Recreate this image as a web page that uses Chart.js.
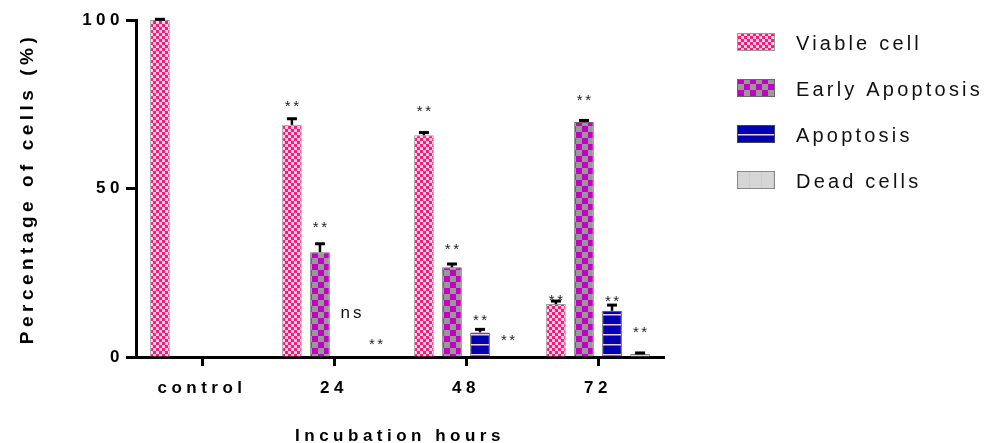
<!DOCTYPE html>
<html>
<head>
<meta charset="utf-8">
<script src="https://cdn.jsdelivr.net/npm/chart.js@4.4.1/dist/chart.umd.min.js"></script>
<style>
  html, body { margin: 0; padding: 0; background: #fff; }
  canvas { display: block; }
</style>
</head>
<body>
<canvas id="cellChart" width="1000" height="443"></canvas>
<script>
// Valores (porcentaje de celulas)
const categories = ['control', '24', '48', '72'];
const seriesNames = ['Viable cell', 'Early Apoptosis', 'Apoptosis', 'Dead cells'];

const viable = [100, 68.9, 65.8, 15.7];
const early = [0, 31.1, 26.6, 69.7];
const apoptosis = [0, 0, 7.3, 13.7];
const dead = [0, 0, 0, 0.9];

// barras de error (solo hacia arriba)
const viableErr = [0.2, 1.8, 0.8, 0.9];
const earlyErr = [0, 2.5, 1.0, 0.5];
const apoptosisErr = [0, 0, 0.9, 1.7];
const deadErr = [0, 0, 0, 0.3];

// marcas de significancia y nivel (%) donde aparecen
const viableSig = ['', '**', '**', '**'];
const earlySig = ['', '**', '**', '**'];
const apoptosisSig = ['', 'ns', '**', '**'];
const deadSig = ['', '**', '**', '**'];
const viableSigAt = [0, 75.4, 73.7, 17.8];
const earlySigAt = [0, 39.5, 32.9, 77.0];
const apoptosisSigAt = [0, 12.8, 11.9, 17.5];
const deadSigAt = [0, 4.7, 5.9, 8.3];

const yTicks = [0, 50, 100];

const FONT = '"Liberation Sans", Arial, Helvetica, sans-serif';

const canvas = document.getElementById('cellChart');
const ctx = canvas.getContext('2d');

function makePattern(w, h, paint) {
  const c = document.createElement('canvas');
  c.width = w;
  c.height = h;
  paint(c.getContext('2d'), w, h);
  return ctx.createPattern(c, 'repeat');
}

const viableFill = makePattern(6, 6, (g) => {
  g.fillStyle = '#ffd2e3';
  g.fillRect(0, 0, 6, 6);
  g.fillStyle = '#ff1877';
  g.fillRect(0, 0, 3, 3);
  g.fillRect(3, 3, 3, 3);
});
const earlyFill = makePattern(12, 12, (g) => {
  g.fillStyle = '#999999';
  g.fillRect(0, 0, 12, 12);
  g.fillStyle = '#c300c3';
  g.fillRect(0, 0, 6, 6);
  g.fillRect(6, 6, 6, 6);
});
const apoptosisFill = makePattern(10, 10, (g) => {
  g.fillStyle = '#0000b0';
  g.fillRect(0, 0, 10, 10);
  g.fillStyle = '#f3c6e6';
  g.fillRect(0, 4, 10, 1.5);
});
const deadFill = makePattern(12, 10, (g) => {
  g.fillStyle = '#d5d5d5';
  g.fillRect(0, 0, 12, 10);
  g.fillStyle = '#f2b9c6';
  g.fillRect(5, 0, 1, 10);
});

const errors = [viableErr, earlyErr, apoptosisErr, deadErr];
const sigs = [viableSig, earlySig, apoptosisSig, deadSig];
const sigLevels = [viableSigAt, earlySigAt, apoptosisSigAt, deadSigAt];

// espaciado de letras para los textos de los ejes
const letterSpacingPlugin = {
  id: 'letterSpacing',
  beforeLayout(chart) { chart.ctx.letterSpacing = '4.5px'; },
  beforeDraw(chart) { chart.ctx.letterSpacing = '4.5px'; }
};

// barras de error
const errorBarPlugin = {
  id: 'errorBars',
  afterDatasetsDraw(chart) {
    const c = chart.ctx;
    const y = chart.scales.y;
    c.save();
    c.strokeStyle = '#000';
    c.fillStyle = '#000';
    chart.data.datasets.forEach((ds, i) => {
      const meta = chart.getDatasetMeta(i);
      meta.data.forEach((bar, j) => {
        const err = errors[i][j];
        if (!err) return;
        const top = y.getPixelForValue(ds.data[j] + err);
        c.lineWidth = 2.5;
        c.beginPath();
        c.moveTo(bar.x, bar.y);
        c.lineTo(bar.x, top);
        c.stroke();
        c.fillRect(bar.x - 5, top - 1.5, 10, 3);
      });
    });
    c.restore();
  }
};

// marcas ** / ns y leyenda
const labelsPlugin = {
  id: 'sigAndLegend',
  afterDraw(chart) {
    const c = chart.ctx;
    const y = chart.scales.y;
    c.save();
    c.textAlign = 'center';
    c.textBaseline = 'middle';
    chart.data.datasets.forEach((ds, i) => {
      const meta = chart.getDatasetMeta(i);
      meta.data.forEach((bar, j) => {
        const txt = sigs[i][j];
        if (!txt) return;
        const py = y.getPixelForValue(sigLevels[i][j]);
        if (txt === 'ns') {
          c.font = '17px ' + FONT;
          c.letterSpacing = '3px';
          c.fillStyle = '#111';
          c.fillText(txt, bar.x + 3 + 1.5, py - 1);
        } else {
          c.font = '15px ' + FONT;
          c.letterSpacing = '2.5px';
          c.fillStyle = '#222';
          c.fillText(txt, bar.x + 1.2, py + 3.5);
        }
      });
    });

    // leyenda
    c.textAlign = 'left';
    c.font = '20px ' + FONT;
    c.letterSpacing = '3.2px';
    chart.data.datasets.forEach((ds, i) => {
      const top = 33 + i * 46;
      c.fillStyle = ds.backgroundColor;
      c.fillRect(737, top, 38, 18);
      c.lineWidth = 1;
      c.strokeStyle = ds.borderColor;
      c.strokeRect(737.5, top + 0.5, 37, 17);
      c.fillStyle = '#111';
      c.fillText(ds.label, 796, top + 11);
    });
    c.restore();
  }
};

const fills = [viableFill, earlyFill, apoptosisFill, deadFill];
const borders = ['#9a9a9a', '#6a6a6a', '#444444', '#888888'];
const values = [viable, early, apoptosis, dead];

new Chart(ctx, {
  type: 'bar',
  data: {
    labels: categories,
    datasets: seriesNames.map((name, i) => ({
      label: name,
      data: values[i],
      backgroundColor: fills[i],
      borderColor: borders[i],
      borderWidth: 1,
      borderSkipped: 'start',
      categoryPercentage: 0.85,
      barPercentage: 0.7
    }))
  },
  options: {
    responsive: false,
    animation: false,
    events: [],
    layout: { padding: { left: 0, right: 336, top: 20, bottom: 0 } },
    plugins: {
      legend: { display: false },
      tooltip: { enabled: false }
    },
    scales: {
      x: {
        z: 1,
        offset: true,
        grid: { drawOnChartArea: false, offset: false, tickLength: 9, tickWidth: 3, tickColor: '#000' },
        border: { display: true, color: '#000', width: 3 },
        ticks: { color: '#000', padding: 12, maxRotation: 0, font: { family: FONT, size: 17, weight: 'bold' } },
        title: {
          display: true,
          text: 'Incubation hours',
          color: '#000',
          padding: 0,
          font: { family: FONT, size: 17, weight: 'bold', lineHeight: 0.8 }
        },
        afterFit(scale) { scale.height = 86; }
      },
      y: {
        z: 1,
        min: 0,
        max: 100,
        afterBuildTicks(scale) { scale.ticks = yTicks.map(v => ({ value: v })); },
        grid: { drawOnChartArea: false, tickLength: 10, tickWidth: 3, tickColor: '#000' },
        border: { display: true, color: '#000', width: 3 },
        ticks: { color: '#000', padding: 2, font: { family: FONT, size: 17, weight: 'bold' } },
        title: {
          display: true,
          text: 'Percentage of cells (%)',
          color: '#000',
          padding: { top: 16, bottom: 0 },
          font: { family: FONT, size: 19, weight: 'bold', lineHeight: 1.2 }
        },
        afterFit(scale) { scale.width = 136; }
      }
    }
  },
  plugins: [letterSpacingPlugin, errorBarPlugin, labelsPlugin]
});
</script>
</body>
</html>
